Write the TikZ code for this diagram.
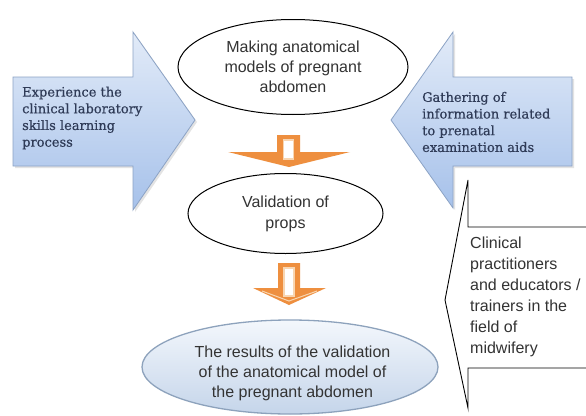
\documentclass[tikz,border=0pt]{standalone}
\usepackage{fontspec}
\newfontfamily\sansf{Liberation Sans}
\newfontfamily\serf[FakeBold=0.5]{DejaVu Serif}
\usetikzlibrary{shapes.geometric,shadows}
\definecolor{navytext}{HTML}{2F3B57}
\definecolor{graytext}{HTML}{333333}
\definecolor{arrowtop}{HTML}{E2EBF8}
\definecolor{arrowbot}{HTML}{A6C1EA}
\definecolor{arrowedge}{HTML}{8CA3C5}
\definecolor{orng}{HTML}{EE8F3F}
\definecolor{orngl}{HTML}{F8D6B2}
\definecolor{ellfilltop}{HTML}{F3F7FC}
\definecolor{ellfillbot}{HTML}{C5D5EA}
\definecolor{elledge}{HTML}{8DA2BC}
\begin{document}
\begin{tikzpicture}[x=1pt,y=-1pt,
  bluearrow/.style={draw=arrowedge, line width=0.8pt, top color=arrowtop, bottom color=arrowbot,
    drop shadow={opacity=0.22, shadow xshift=2pt, shadow yshift=-2pt}},
  serftext/.style={font=\serf\fontsize{13}{16.7}\selectfont, text=navytext, align=left, inner sep=0pt},
  sanstext/.style={font=\sansf\fontsize{16}{20}\selectfont, text=graytext, align=center, inner sep=0pt},
  ellbox/.style={draw=black, line width=1pt, ellipse, inner sep=0pt, fill=white},
  orangearrow/.style={fill=orng, draw=none},
  orangeinner/.style={fill=white, draw=orngl, line width=1.2pt}
]
\useasboundingbox (0,0) rectangle (586,415);
\fill[white] (0,0) rectangle (586,415);

% left block arrow
\path[bluearrow] (13,77) -- (133,77) -- (133,32) -- (195,120) -- (133,210) -- (133,166) -- (13,166) -- cycle;
\node[serftext, anchor=west] (lefttext) at (22,118) {Experience the\\clinical laboratory\\skills learning\\process};

% right block arrow
\path[bluearrow] (572,77) -- (453,77) -- (453,32) -- (391,120) -- (453,208) -- (453,166) -- (572,166) -- cycle;
\node[serftext, anchor=west] (righttext) at (422,122) {Gathering of\\information related\\to prenatal\\examination aids};

% top ellipse
\node[ellbox, minimum width=230pt, minimum height=95pt, sanstext] (topell) at (293,67)
  {Making anatomical\\models of pregnant\\abdomen};

% orange arrow 1
\path[orangearrow] (277,135) -- (300,135) -- (300,152) -- (350,152) -- (289,167) -- (228,152) -- (277,152) -- cycle;
\path[orangeinner] (283.5,140) rectangle (293.5,159);

% middle ellipse
\node[ellbox, minimum width=195pt, minimum height=80pt, sanstext, font=\sansf\fontsize{16}{21}\selectfont] (midell) at (285.5,213.5)
  {Validation of\\props};

% orange arrow 2
\path[orangearrow] (278,263) -- (300,263) -- (300,288) -- (326,288) -- (289,305) -- (253,288) -- (278,288) -- cycle;
\path[orangeinner] (284,268) rectangle (294,296);
\draw[orngl, line width=1pt] (262,291) -- (289,301) -- (317,291);

% bottom ellipse
\node[ellipse, draw=elledge, line width=1.3pt, top color=ellfilltop, bottom color=ellfillbot,
  minimum width=296pt, minimum height=94pt, inner sep=0pt] (botell) at (290,367) {};
\node[sanstext] (bottext) at (292.5,373) {The results of the validation\\of the anatomical model of\\the pregnant abdomen};

% right callout
\path[fill=white, draw=black, line width=0.9pt] (592,227) -- (468,227) -- (468,180) -- (445,300) -- (468,408) -- (468,368) -- (592,368);
\node[sanstext, align=left, font=\sansf\fontsize{16}{21}\selectfont, anchor=west] (callouttext) at (470,297)
  {Clinical\\practitioners\\and educators /\\trainers in the\\field of\\midwifery};
\end{tikzpicture}
\end{document}
